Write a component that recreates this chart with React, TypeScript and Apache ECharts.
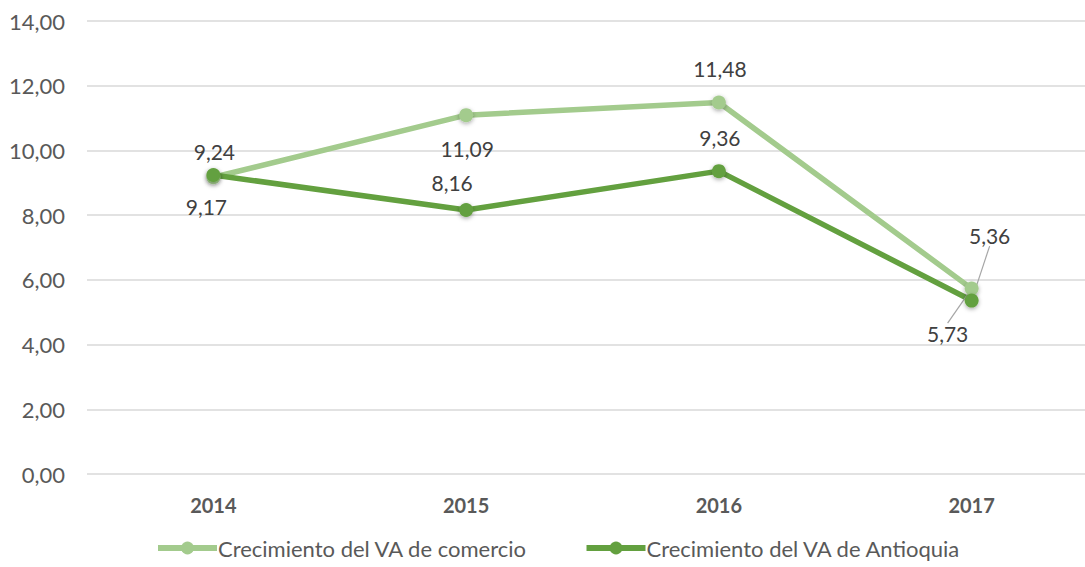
import React, { useEffect, useRef } from "react";
import * as echarts from "echarts";

const years = ["2014", "2015", "2016", "2017"];
const comercio = [9.17, 11.09, 11.48, 5.73];
const antioquia = [9.24, 8.16, 9.36, 5.36];
const yTicks = { min: 0, max: 14, interval: 2 };
const seriesNames = ["Crecimiento del VA de comercio", "Crecimiento del VA de Antioquia"];

const FONT = "Lato";
const LIGHT = "#A3CB8D";
const DARK = "#63A03F";

const fmt = (v: number) => v.toFixed(2).replace(".", ",");

export default function App() {
  const ref = useRef<HTMLDivElement>(null);
  useEffect(() => {
    if (!ref.current) return;
    const chart = echarts.init(ref.current, undefined, { renderer: "svg" });
    // label centre offsets [dx, dy] relative to each point
    const lightOff = [[-7, 29], [1, 33], [1, -34], [-24, 45]];
    const darkOff = [[1, -24], [-14, -27], [1, -34], [18, -65]];
    const mkSeries = (name: string, color: string, vals: number[], offs: number[][]) => ({
      type: "line",
      name,
      color,
      symbol: "circle",
      symbolSize: 14,
      lineStyle: { width: 5.5, color },
      itemStyle: { color, shadowBlur: 4, shadowColor: "rgba(0,0,0,0.35)", shadowOffsetY: 1.5 },
      label: {
        show: true,
        position: "inside",
        color: "#404040",
        fontFamily: FONT,
        fontSize: 21,
        formatter: (p: any) => fmt(p.value),
      },
      labelLine: { show: false, lineStyle: { color: "#A6A6A6", width: 1.2 } },
      labelLayout: (p: any) => ({ dx: offs[p.dataIndex][0], dy: offs[p.dataIndex][1] }),
      data: vals.map((v, i) => ({
        value: v,
        labelLine: { show: i === 3, lineStyle: { color: "#A6A6A6", width: 1.2 } },
      })),
    });
    chart.setOption({
      animation: false,
      grid: { left: 87, right: 1, top: 21, bottom: 93 },
      legend: {
        top: 532,
        left: 150,
        itemWidth: 59,
        itemHeight: 16,
        itemGap: 56,
        lineStyle: { width: 6 },
        textStyle: { color: "#595959", fontFamily: FONT, fontSize: 22, padding: [0, 0, 0, -4] },
        data: seriesNames,
      },
      xAxis: {
        type: "category",
        data: years,
        axisLine: { show: false },
        axisTick: { show: false },
        axisLabel: { color: "#595959", fontWeight: "bold", fontFamily: FONT, fontSize: 20, margin: 21 },
      },
      yAxis: {
        type: "value",
        min: yTicks.min,
        max: yTicks.max,
        interval: yTicks.interval,
        axisLabel: {
          color: "#595959",
          fontFamily: FONT,
          fontSize: 22,
          margin: 22,
          formatter: (v: number) => fmt(v),
        },
        splitLine: { lineStyle: { color: "#D9D9D9", width: 1.5 } },
      },
      series: [
        mkSeries(seriesNames[0], LIGHT, comercio, lightOff),
        mkSeries(seriesNames[1], DARK, antioquia, darkOff),
      ],
    });
    return () => chart.dispose();
  }, []);
  return (
    <div style={{ position: "absolute", left: 0, top: 0, width: 1085, height: 567, overflow: "hidden", background: "#fff" }}>
      <div ref={ref} style={{ width: 1099, height: 567 }} />
    </div>
  );
}
